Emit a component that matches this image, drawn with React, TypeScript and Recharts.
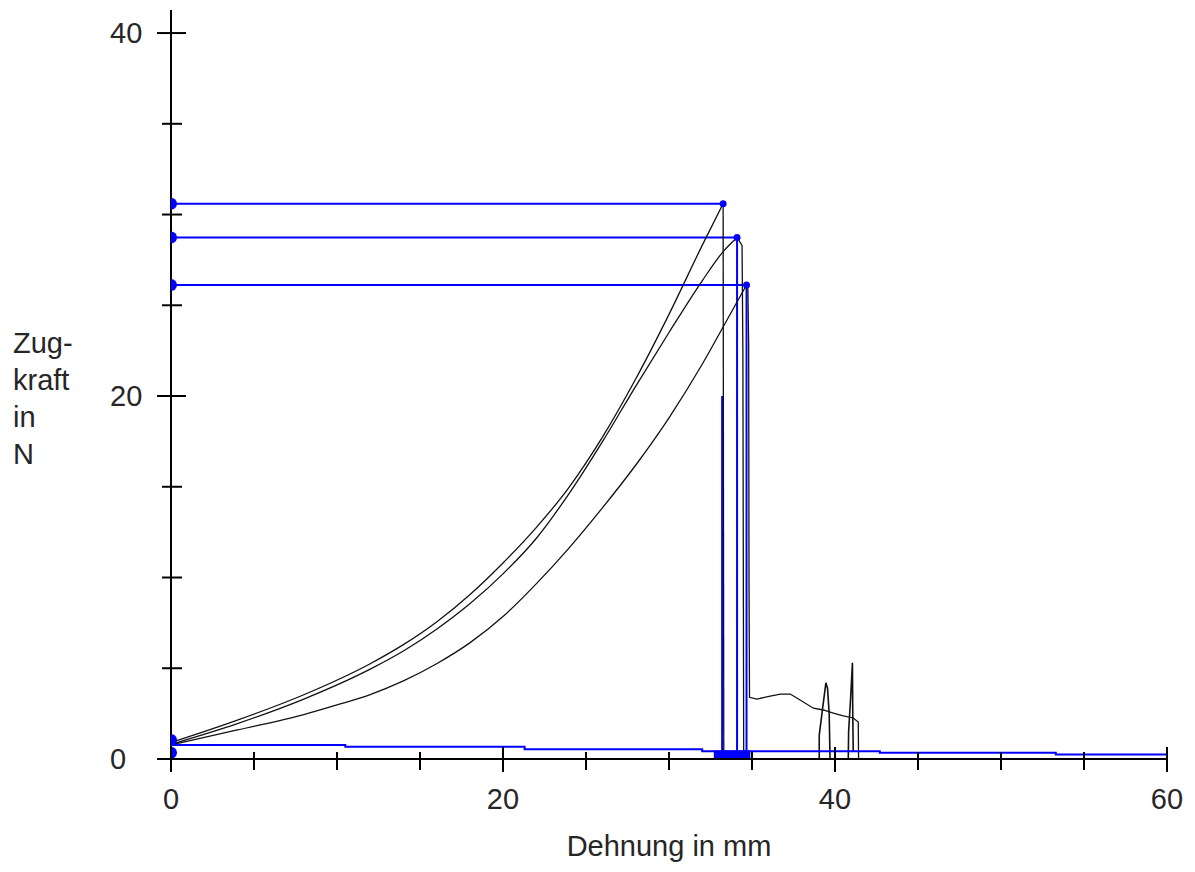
import { LineChart, Line, XAxis, YAxis } from 'recharts'

type Pt = { x: number; y: number }

const FONT = '"Liberation Sans", Arial, sans-serif'
const BLUE = '#0000ff'
const INK = '#111'
const TEXT = '#262626'

// axis setup (Dehnung in mm / Zugkraft in N)
const xTicks = [0, 5, 10, 15, 20, 25, 30, 35, 40, 45, 50, 55, 60]
const yTicks = [0, 5, 10, 15, 20, 25, 30, 35, 40]
const yTop = 41.27

// maximum force and elongation at max force, per specimen
const fMax = [30.6, 28.74, 26.12]
const sMax = [33.26, 34.1, 34.67]

// rising branch of each specimen (up to just before the maximum)
const riseA: Pt[] = [
  { x: 0.15, y: 0.95 }, { x: 4, y: 2.14 }, { x: 8, y: 3.54 }, { x: 12, y: 5.25 },
  { x: 14, y: 6.3 }, { x: 16, y: 7.55 }, { x: 18, y: 9.05 }, { x: 20, y: 10.8 },
  { x: 22, y: 12.75 }, { x: 24, y: 15.0 }, { x: 26, y: 17.75 }, { x: 28, y: 20.95 },
  { x: 30, y: 24.5 }, { x: 32, y: 28.3 },
]
const riseB: Pt[] = [
  { x: 0.15, y: 0.85 }, { x: 4, y: 1.95 }, { x: 8, y: 3.3 }, { x: 12, y: 4.95 },
  { x: 14, y: 5.95 }, { x: 16, y: 7.15 }, { x: 18, y: 8.55 }, { x: 20, y: 10.2 },
  { x: 22, y: 12.15 }, { x: 24, y: 14.65 }, { x: 26, y: 17.5 }, { x: 28, y: 20.55 },
  { x: 30, y: 23.5 }, { x: 32, y: 26.35 }, { x: 33.3, y: 28.0 },
]
const riseC: Pt[] = [
  { x: 0.15, y: 0.8 }, { x: 4, y: 1.6 }, { x: 8, y: 2.45 }, { x: 10, y: 2.98 },
  { x: 12, y: 3.55 }, { x: 14, y: 4.3 }, { x: 16, y: 5.25 }, { x: 18, y: 6.4 },
  { x: 20, y: 7.85 }, { x: 22, y: 9.65 }, { x: 24, y: 11.65 }, { x: 26, y: 13.85 },
  { x: 28, y: 16.2 }, { x: 30, y: 18.8 }, { x: 32, y: 21.75 }, { x: 33.5, y: 24.2 },
]

// break / tail after the maximum
const tailA: Pt[] = [{ x: 33.3, y: 0.1 }]
const tailB: Pt[] = [{ x: 34.4, y: 28.3 }, { x: 34.45, y: 22.6 }, { x: 34.5, y: 0.2 }]
const tailC: Pt[] = [
  { x: 34.75, y: 25.9 }, { x: 34.8, y: 22.8 }, { x: 34.82, y: 9.8 }, { x: 34.85, y: 3.4 },
  { x: 35.3, y: 3.3 }, { x: 36.1, y: 3.47 }, { x: 36.7, y: 3.58 }, { x: 37.3, y: 3.58 },
  { x: 37.7, y: 3.36 }, { x: 38.7, y: 2.8 }, { x: 39.3, y: 2.7 }, { x: 39.9, y: 2.53 },
  { x: 40.5, y: 2.37 }, { x: 41.1, y: 2.26 }, { x: 41.4, y: 2.04 }, { x: 41.42, y: 0 },
]
const spike1: Pt[] = [
  { x: 39.05, y: 0 }, { x: 39.05, y: 1.3 }, { x: 39.2, y: 2.4 }, { x: 39.45, y: 4.2 },
  { x: 39.55, y: 3.9 }, { x: 39.65, y: 2.5 }, { x: 39.7, y: 0 },
]
const spike2: Pt[] = [
  { x: 40.8, y: 0 }, { x: 40.82, y: 1.5 }, { x: 40.95, y: 3.5 }, { x: 41.05, y: 5.3 },
  { x: 41.07, y: 2.5 }, { x: 41.1, y: 0.4 },
]

// blue evaluation marks
const dropX = [33.2, 34.1, 34.67]
const dropTop = [20, 28.74, 26.12]
const baseX = [0, 10.5, 21.3, 32.0, 42.7, 53.3, 60]
const baseY = [0.77, 0.67, 0.54, 0.43, 0.34, 0.25, 0.25]
const breakBand: Pt[] = [{ x: 32.7, y: 0.25 }, { x: 34.9, y: 0.25 }]
const startMarks: Pt[] = [{ x: 0, y: 1.05 }, { x: 0, y: 0.35 }]

const peaks: Pt[] = fMax.map((f, i) => ({ x: sMax[i], y: f }))
const rises: Pt[][] = [riseA, riseB, riseC].map((r, i) => [...r, peaks[i]])
const tails: Pt[][] = [tailA, tailB, tailC].map((t, i) => [peaks[i], ...t])
const maxLines: Pt[][] = fMax.map((f, i) => [{ x: 0, y: f }, { x: sMax[i], y: f }])
const drops: Pt[][] = dropX.map((x, i) => [{ x, y: dropTop[i] }, { x, y: 0.15 }])
const baseline: Pt[] = baseX.map((x, i) => ({ x, y: baseY[i] }))

function BlueDot(props: any) {
  const { cx, cy, payload, index } = props
  if (cx == null || cy == null) return <g key={index} />
  if (payload.x === 0) {
    return <path key={index} d={`M${cx},${cy - 6} A6,6 0 0 1 ${cx},${cy + 6} Z`} fill={BLUE} />
  }
  return <circle key={index} cx={cx} cy={cy} r={3.5} fill={BLUE} />
}

function YTick(props: any) {
  const { x, y, payload } = props
  const major = payload.value % 20 === 0
  return (
    <g>
      <line x1={x - (major ? 14 : 9)} x2={x + (major ? 15 : 11)} y1={y} y2={y} stroke="#000" strokeWidth={2} />
      {major && (
        <text x={x - 61} y={y + 10} fontSize={29} fontFamily={FONT} fill={TEXT}>
          {payload.value}
        </text>
      )}
    </g>
  )
}

function XTick(props: any) {
  const { x, y, payload } = props
  const major = payload.value % 20 === 0
  return (
    <g>
      <line x1={x} x2={x} y1={y - (major ? 12 : 7)} y2={y + (major ? 13 : 11)} stroke="#000" strokeWidth={2} />
      {major && (
        <text x={x} y={y + 50} textAnchor="middle" fontSize={29} fontFamily={FONT} fill={TEXT}>
          {payload.value}
        </text>
      )}
    </g>
  )
}

function YTitle() {
  const lines = ['Zug-', 'kraft', 'in', 'N']
  return (
    <text x={13} y={353} fontSize={29} fontFamily={FONT} fill={TEXT}>
      {lines.map((t, i) => (
        <tspan key={t} x={13} dy={i === 0 ? 0 : 37}>
          {t}
        </tspan>
      ))}
    </text>
  )
}

function XTitle(props: any) {
  const { viewBox } = props
  const cx = viewBox.x + viewBox.width / 2
  return (
    <text x={cx} y={856} textAnchor="middle" fontSize={29} fontFamily={FONT} fill={TEXT}>
      Dehnung in mm
    </text>
  )
}

export default function App() {
  return (
    <div style={{ position: 'absolute', left: 0, top: 0, background: '#fff' }}>
      <LineChart width={1195} height={872} margin={{ top: 10, right: 28, bottom: 53, left: 111 }}>
        <XAxis
          type="number"
          dataKey="x"
          domain={[0, 60]}
          ticks={xTicks}
          interval={0}
          height={60}
          tickSize={0}
          tickMargin={0}
          tickLine={false}
          tick={<XTick />}
          axisLine={{ stroke: '#000', strokeWidth: 2 }}
          label={{ content: <XTitle /> }}
        />
        <YAxis
          type="number"
          dataKey="y"
          domain={[0, yTop]}
          ticks={yTicks}
          interval={0}
          width={60}
          tickSize={0}
          tickMargin={0}
          tickLine={false}
          tick={<YTick />}
          axisLine={{ stroke: '#000', strokeWidth: 2 }}
          label={{ content: <YTitle /> }}
        />
        {maxLines.map((d, i) => (
          <Line key={`max${i}`} data={d} dataKey="y" stroke={BLUE} strokeWidth={2} dot={<BlueDot />} activeDot={false} isAnimationActive={false} />
        ))}
        {drops.map((d, i) => (
          <Line key={`drop${i}`} data={d} dataKey="y" stroke={BLUE} strokeWidth={2} dot={false} activeDot={false} isAnimationActive={false} />
        ))}
        {rises.map((d, i) => (
          <Line key={`rise${i}`} data={d} dataKey="y" type="monotone" stroke={INK} strokeWidth={1.3} dot={false} activeDot={false} isAnimationActive={false} />
        ))}
        {tails.map((d, i) => (
          <Line key={`tail${i}`} data={d} dataKey="y" stroke={INK} strokeWidth={1.3} dot={false} activeDot={false} isAnimationActive={false} />
        ))}
        <Line data={spike1} dataKey="y" stroke={INK} strokeWidth={1.6} dot={false} activeDot={false} isAnimationActive={false} />
        <Line data={spike2} dataKey="y" stroke={INK} strokeWidth={1.6} dot={false} activeDot={false} isAnimationActive={false} />
        <Line data={baseline} dataKey="y" type="stepAfter" stroke={BLUE} strokeWidth={2} dot={false} activeDot={false} isAnimationActive={false} />
        <Line data={breakBand} dataKey="y" stroke={BLUE} strokeWidth={8} dot={false} activeDot={false} isAnimationActive={false} />
        <Line data={startMarks} dataKey="y" stroke="none" dot={<BlueDot />} activeDot={false} isAnimationActive={false} />
      </LineChart>
    </div>
  )
}
